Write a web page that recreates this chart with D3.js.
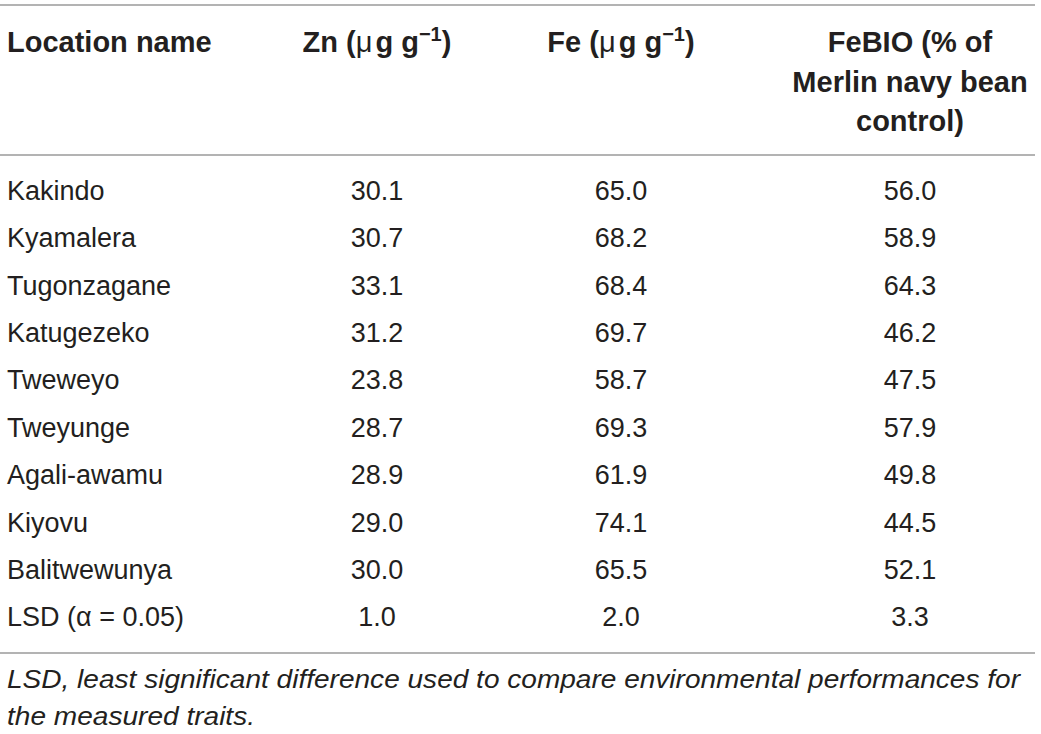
<!DOCTYPE html>
<html>
<head>
<meta charset="utf-8">
<script src="https://cdn.jsdelivr.net/npm/d3@7"></script>
<style>
  html, body { margin: 0; padding: 0; background: #fff; }
  svg text { font-family: "Liberation Sans", Arial, Helvetica, sans-serif; fill: #231f20; }
  .head { font-weight: bold; font-size: 29px; }
  .cell { font-size: 27px; }
  .note { font-size: 26px; font-style: italic; }
  .rule { stroke: #9a9a9a; stroke-width: 1.5; }
</style>
</head>
<body>
<svg id="tbl" width="1041" height="734"></svg>
<script>
// ---- table data ----
const locations = ["Kakindo", "Kyamalera", "Tugonzagane", "Katugezeko", "Tweweyo",
  "Tweyunge", "Agali-awamu", "Kiyovu", "Balitwewunya", "LSD (α = 0.05)"];
const znVals    = ["30.1", "30.7", "33.1", "31.2", "23.8", "28.7", "28.9", "29.0", "30.0", "1.0"];
const feVals    = ["65.0", "68.2", "68.4", "69.7", "58.7", "69.3", "61.9", "74.1", "65.5", "2.0"];
const febioVals = ["56.0", "58.9", "64.3", "46.2", "47.5", "57.9", "49.8", "44.5", "52.1", "3.3"];
const columns = ["Zn", "Fe", "FeBIO"];
const footnote = [
  "LSD, least significant difference used to compare environmental performances for",
  "the measured traits."
];

const svg = d3.select("#tbl");

/* ---------- scales ---------- */
const yRow = d3.scalePoint().domain(locations).range([190, 616.6]);
const xCol = d3.scaleOrdinal().domain(columns).range([377, 621, 910]);

/* ---------- rules ---------- */
[5, 155, 653].forEach(y => {
  svg.append("line").attr("class", "rule")
    .attr("x1", 0).attr("x2", 1035).attr("y1", y).attr("y2", y);
});

/* ---------- header ---------- */
svg.append("text").attr("class", "head")
  .attr("x", 7).attr("y", 52).text("Location name");

function unitHeader(col, label) {
  const t = svg.append("text").attr("class", "head")
    .attr("x", xCol(col)).attr("y", 52).attr("text-anchor", "middle");
  t.append("tspan").text(label + " (");
  t.append("tspan").style("font-weight", "normal").text("μ");
  t.append("tspan").attr("dx", 3).text("g g");
  t.append("tspan").attr("font-size", "20px").attr("dy", -11).text("−1");
  t.append("tspan").attr("dy", 11).text(")");
}
unitHeader("Zn", "Zn");
unitHeader("Fe", "Fe");

const febioHead = ["FeBIO (% of", "Merlin navy bean", "control)"];
svg.append("g").selectAll("text").data(febioHead).join("text")
  .attr("class", "head")
  .attr("x", xCol("FeBIO"))
  .attr("y", (d, i) => 52 + i * 39.5)
  .attr("text-anchor", "middle")
  .text(d => d);

/* ---------- body ---------- */
const body = svg.append("g");
body.selectAll("text.loc").data(locations).join("text")
  .attr("class", "cell loc")
  .attr("x", 7).attr("y", d => yRow(d)).attr("dy", "0.36em")
  .text(d => d);

[["Zn", znVals], ["Fe", feVals], ["FeBIO", febioVals]].forEach(([col, vals]) => {
  body.selectAll("text.c-" + col).data(vals).join("text")
    .attr("class", "cell c-" + col)
    .attr("x", xCol(col))
    .attr("y", (d, i) => yRow(locations[i])).attr("dy", "0.36em")
    .attr("text-anchor", "middle")
    .text(d => d);
});

/* ---------- footnote ---------- */
const noteW = [1013, 248];
svg.selectAll("text.note").data(footnote).join("text")
  .attr("class", "note")
  .attr("x", 7).attr("y", (d, i) => 688 + i * 37)
  .attr("textLength", (d, i) => noteW[i])
  .attr("lengthAdjust", "spacingAndGlyphs")
  .text(d => d);
</script>
</body>
</html>
